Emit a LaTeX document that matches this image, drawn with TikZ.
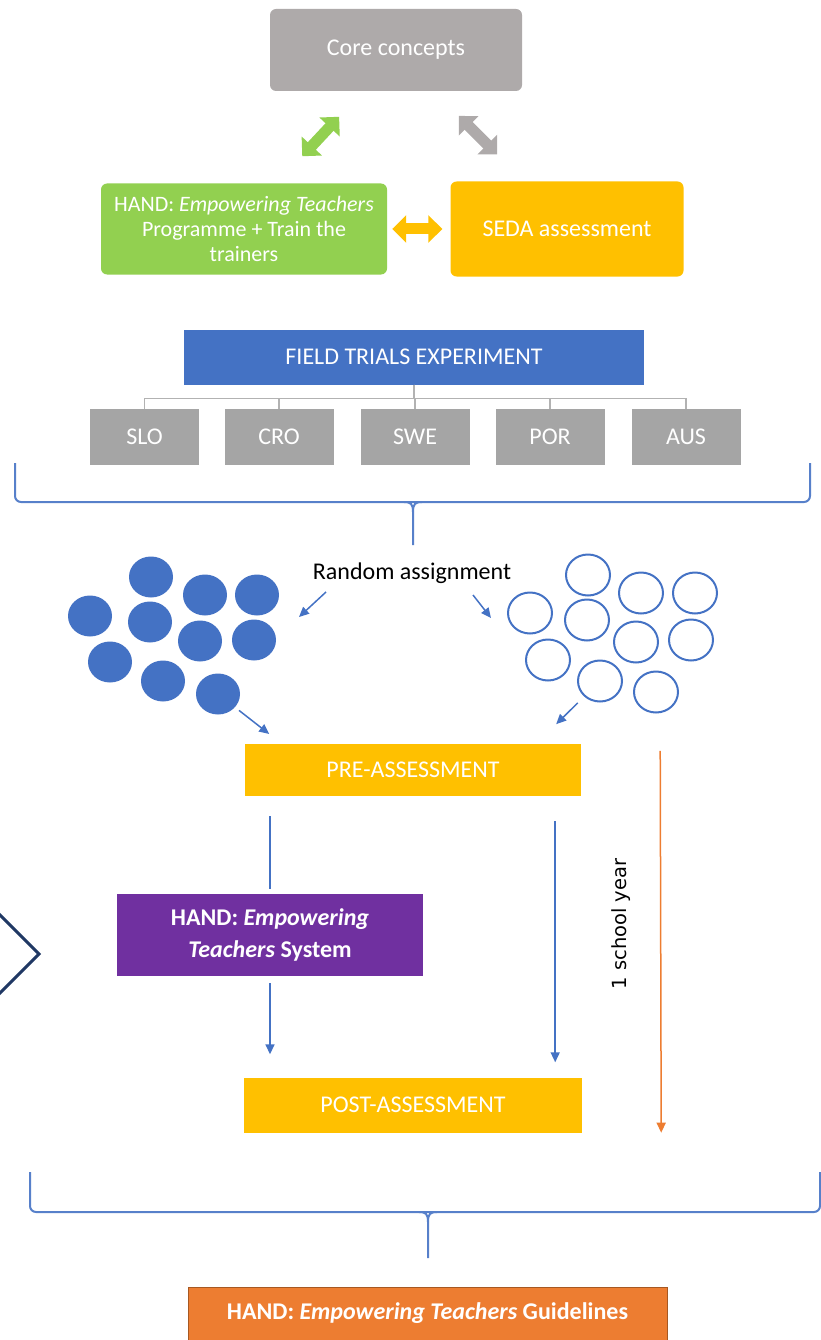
\documentclass[tikz,border=0pt]{standalone}
\usepackage{fontspec}
\setmainfont{Carlito}
\newfontfamily\yearfont{DejaVu Sans}
\usepackage{tikz}
\usetikzlibrary{arrows.meta, positioning, shapes.geometric}

\definecolor{hgray}{HTML}{AEAAAA}
\definecolor{hgraybox}{HTML}{A5A5A5}
\definecolor{hgreen}{HTML}{92D050}
\definecolor{hgold}{HTML}{FFC000}
\definecolor{hblue}{HTML}{4472C4}
\definecolor{hpurple}{HTML}{7030A0}
\definecolor{horange}{HTML}{ED7D31}
\definecolor{hnavy}{HTML}{203864}

% curly bracket: left x, right x, top y, bar y, middle x, tip y
\newcommand{\groupbrace}[6]{%
	\draw [brace, rounded corners=6pt] (#1,#3) -- (#1,#4) -- (#2,#4) -- (#2,#3);
	\draw [brace] ({#5-9},#4) .. controls ({#5-2},#4) and (#5,{#4+2}) .. (#5,{#4+10}) -- (#5,#6);
	\draw [brace] ({#5+9},#4) .. controls ({#5+2},#4) and (#5,{#4+2}) .. (#5,{#4+10});
}

\begin{document}
\begin{tikzpicture} [x=1pt, y=-1pt, on grid, font=\fontsize{24}{29}\selectfont,
		box/.style={draw=none, text=white, align=center, inner sep=0pt},
		roundbox/.style={box, rounded corners=6pt},
		country/.style={box, fill=hgraybox, minimum width=109pt, minimum height=56pt},
		dot/.style={ellipse, minimum width=44pt, minimum height=41pt, inner sep=0pt},
		link/.style={hblue, line width=1.5pt},
		flow/.style={link, -{Triangle[width=9pt, length=10pt]}},
		duo/.style={{Triangle[width=27pt, length=14pt]}-{Triangle[width=27pt, length=14pt]}, line width=11pt},
		brace/.style={hblue!90, line width=2pt},
		tee/.style={draw=hgraybox!85, line width=1.5pt}]
			% Help grid
			%	\draw [help lines, step=50] (0,0) grid (821,1340);
			\useasboundingbox (0,0) rectangle (821,1340);

			% Top triangle : core concepts, programme and assessment
			\node (core) [roundbox, fill=hgray, minimum width=252pt, minimum height=82pt] at (396,50) {Core concepts};
			\node (prog) [roundbox, fill=hgreen, minimum width=286pt, minimum height=91pt,
			font=\fontsize{22}{25}\selectfont, below left = 179pt and 152pt of core]
			{HAND: \textit{Empowering Teachers}\\Programme + Train the\\trainers};
			\node (seda) [roundbox, fill=hgold, minimum width=233pt, minimum height=95pt, right = 323pt of prog] {SEDA assessment};

			\draw [duo, hgreen, shorten <=37pt, shorten >=35pt] ([xshift=33pt]prog.north) -- ([xshift=-33pt]core.south);
			\draw [duo, hgray, shorten <=35pt, shorten >=38pt] ([xshift=38pt]core.south) -- ([xshift=-43pt]seda.north);
			\draw [duo, hgold, shorten <=5pt, shorten >=8pt] (prog.east) -- (seda.west);

			% Field trials and the countries
			\node (field) [box, fill=hblue, minimum width=460pt, minimum height=55pt] at (414,357) {FIELD TRIALS EXPERIMENT};
			\foreach \c/\x in {SLO/144.5, CRO/279, SWE/415, POR/550, AUS/686}
			{
				\node (\c) [country] at (\x,437) {\c};
				\draw [tee] (field.south) -- ++(0,14) -| (\c.north);
			}
			\groupbrace{15}{810}{463}{502}{413}{545}

			% Random assignment into two groups
			\node (rand) at (412,573) {Random assignment};
			\foreach \x/\y [count=\i] in {151/577, 205/595, 257/595, 90/616, 150/622, 200/641, 254/640, 110/662, 163/681, 218/694}
				\node (f\i) [dot, fill=hblue] at (\x,\y) {};
			\foreach \x/\y [count=\i] in {588/575, 641/593, 695/593, 530/613, 587/620, 636/642, 691/640, 548/660, 600/681, 656/692}
				\node (o\i) [dot, draw=hblue, line width=2pt] at (\x,\y) {};

			\coordinate (fromL) at (326,592);
			\coordinate (intoF) at (299,617);
			\coordinate (fromR) at (473,595);
			\coordinate (intoO) at (491,618);
			\draw [flow] (fromL) -- (intoF);
			\draw [flow] (fromR) -- (intoO);

			% Assessments and the system in between
			\node (pre) [box, fill=hgold, minimum width=336pt, minimum height=52pt] at (413,770) {PRE-ASSESSMENT};
			\node (hets) [box, fill=hpurple, minimum width=306pt, minimum height=82pt,
			font=\fontsize{24}{32}\selectfont\bfseries] at (270,935) {HAND: \textit{Empowering}\\\textit{Teachers} System};
			\node (post) [box, fill=hgold, minimum width=338pt, minimum height=55pt, below = 335pt of pre] {POST-ASSESSMENT};

			\draw [flow, shorten <=5pt, shorten >=16pt] (f10) -- ([xshift=37pt]pre.north west);
			\draw [flow, shorten <=9pt, shorten >=28pt] (o9) -- ([xshift=-45pt]pre.north east);
			\draw [link, shorten <=20pt, shorten >=5pt] (hets |- pre.south) -- (hets.north);
			\draw [flow, shorten <=7pt, shorten >=23pt] (hets.south) -- (hets |- post.north);
			\draw [flow, shorten <=25pt, shorten >=15pt] ([xshift=-26pt]pre.south east) -- ([xshift=-26pt]pre.south east |- post.north);

			% Duration
			\draw [flow, horange, shorten <=7pt] ([xshift=79pt]pre.north east) -- ([xshift=79pt]post.south east);
			\node (year) [rotate=90, font=\yearfont\fontsize{19.5}{23}\selectfont] at (621,924) {1 school year};

			% Side chevron
			\draw [hnavy, line width=3pt] (-4,911) -- (39,954) -- (-4,997);

			% Result
			\groupbrace{30}{820}{1172}{1212}{428}{1258}
			\node (guide) [box, fill=horange, draw=horange!70!black, line width=1pt, minimum width=479pt, minimum height=53pt,
			font=\fontsize{24}{29}\selectfont\bfseries] at (427.5,1313.5) {HAND: \textit{Empowering Teachers} Guidelines};
		\end{tikzpicture}
\end{document}
